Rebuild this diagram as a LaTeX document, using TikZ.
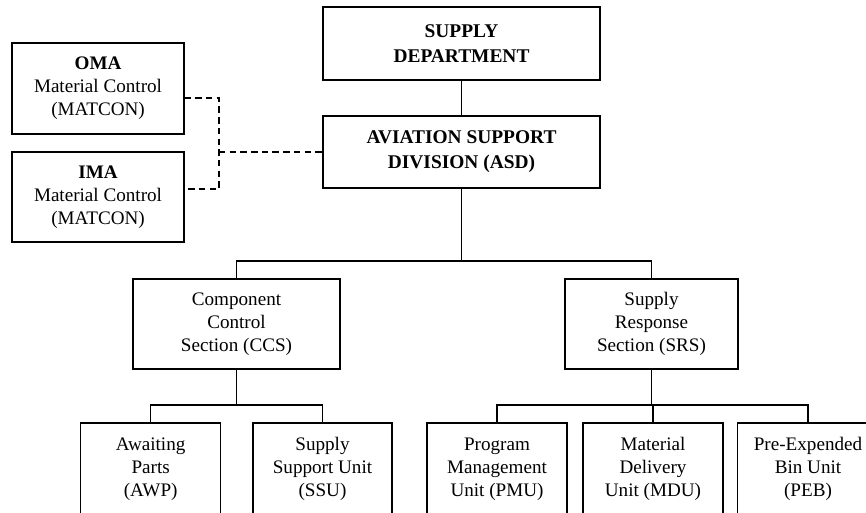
\documentclass[tikz,border=0pt]{standalone}
\usepackage{fontspec}
\setmainfont{Liberation Serif}
\usetikzlibrary{positioning,calc}

\tikzset{
  unitbox/.style={draw, line width=0.9pt, align=center, inner sep=2pt,
    font=\fontsize{13.6}{16.4}\selectfont},
  headbox/.style={unitbox, font=\bfseries\fontsize{13.8}{17.6}\selectfont},
  orgline/.style={line width=0.9pt},
  dashline/.style={line width=0.9pt, dash pattern=on 4.6pt off 3pt}
}

\begin{document}
\begin{tikzpicture}[x=0.025cm, y=-0.025cm]
    % Page frame
    \useasboundingbox (0,0) rectangle (866,512);

    % Top of the chart
    \node[headbox, minimum width=277*0.025cm, minimum height=73*0.025cm] (sup) at (461.5,43.5) {SUPPLY\\DEPARTMENT};
    \node[headbox, minimum width=277*0.025cm, minimum height=72*0.025cm] (asd) at (461.5,152) {AVIATION SUPPORT\\DIVISION (ASD)};

    % Material control offices
    \node[unitbox, minimum width=172*0.025cm, minimum height=91*0.025cm] (oma) at (98,88.5) {\textbf{OMA}\\Material Control\\(MATCON)};
    \node[unitbox, minimum width=172*0.025cm, minimum height=90*0.025cm] (ima) at (98,197) {\textbf{IMA}\\Material Control\\(MATCON)};

    % Sections
    \node[unitbox, minimum width=207*0.025cm, minimum height=90*0.025cm] (ccs) at (236.5,324) {Component\\Control\\Section (CCS)};
    \node[unitbox, minimum width=173*0.025cm, minimum height=90*0.025cm] (srs) at (651.5,324) {Supply\\Response\\Section (SRS)};

    % Units
    \node[unitbox, minimum width=140*0.025cm, minimum height=92*0.025cm] (awp) at (150.7,469) {Awaiting\\Parts\\(AWP)};
    \node[unitbox, minimum width=139*0.025cm, minimum height=92*0.025cm] (ssu) at (322.5,469) {Supply\\Support Unit\\(SSU)};
    \node[unitbox, minimum width=140*0.025cm, minimum height=92*0.025cm] (pmu) at (497,469) {Program\\Management\\Unit (PMU)};
    \node[unitbox, minimum width=140*0.025cm, minimum height=92*0.025cm] (mdu) at (653,469) {Material\\Delivery\\Unit (MDU)};
    \node[unitbox, minimum width=141*0.025cm, minimum height=92*0.025cm] (peb) at (808,469) {Pre-Expended\\Bin Unit\\(PEB)};

    % Branch points
    \coordinate (asdhub) at (461.5,261);
    \coordinate (ccshub) at (236.5,405);
    \coordinate (srshub) at (651.5,405);
    \coordinate (dashhub) at (219,152);

    % Solid links
    \draw[orgline] (sup) -- (asd);
    \draw[orgline] (asd.south) -- (asdhub) -| (ccs.north);
    \draw[orgline] (asdhub) -| (srs.north);
    \draw[orgline] (ccs.south) -- (ccshub) -| (awp.north);
    \draw[orgline] (ccshub) -| (ssu.north);
    \draw[orgline] (srs.south) -- (srshub) -| (pmu.north);
    \draw[orgline] (srshub) -| (peb.north);
    \draw[orgline] (srshub) -| (mdu.north);

    % Dashed links
    \draw[dashline] ([yshift=-6.8pt]oma.east) -| (dashhub) |- ([yshift=5.7pt]ima.east);
    \draw[dashline] (dashhub) -- (asd.west);
\end{tikzpicture}
\end{document}
